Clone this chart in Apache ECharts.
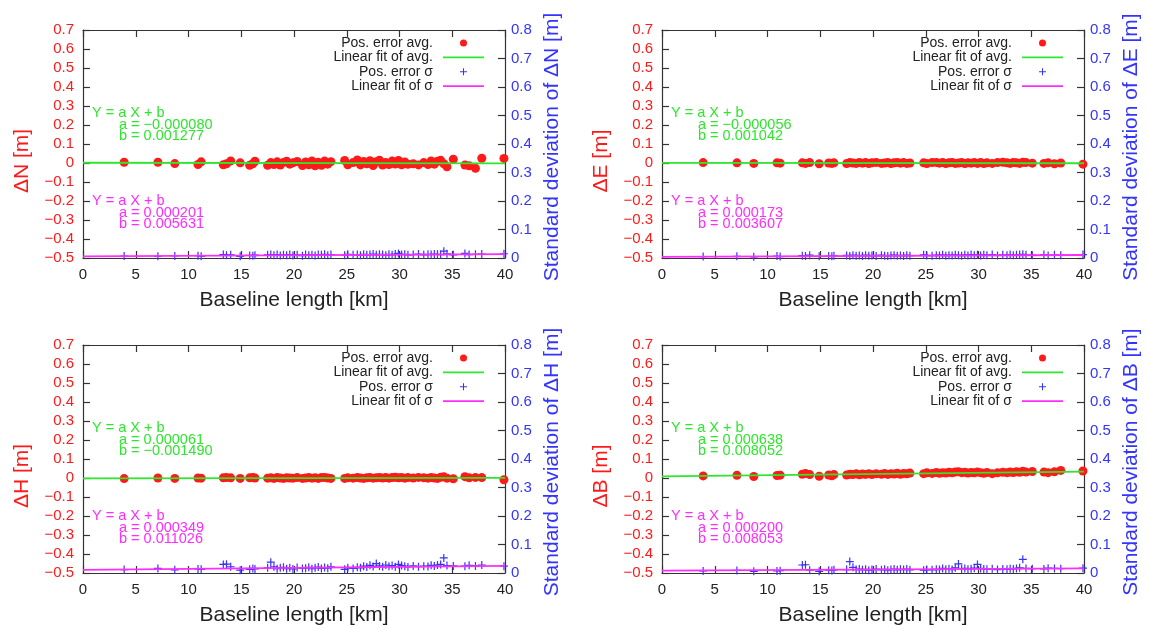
<!DOCTYPE html>
<html>
<head>
<meta charset="utf-8">
<script src="https://cdn.jsdelivr.net/npm/echarts@6/dist/echarts.min.js"></script>
<style>
html, body { margin: 0; padding: 0; background: #fff; }
#chart { width: 1149px; height: 629px; }
</style>
</head>
<body>
<div id="chart"></div>
<script>
// Baseline lengths of the station pairs [km]
const baselineKm = [3.9, 7.1, 8.7, 10.9, 11.2, 13.3, 13.6, 14.0, 14.9, 15.8, 16.1, 16.3, 17.5, 17.8, 18.1, 18.4, 18.7, 19.0, 19.3, 19.6, 19.9, 20.3, 20.8, 21.1, 21.4, 21.7, 22.0, 22.3, 22.6, 22.9, 23.2, 23.5, 24.8, 25.1, 25.6, 26.0, 26.3, 26.6, 26.9, 27.2, 27.5, 27.8, 28.1, 28.4, 28.7, 29.0, 29.3, 29.6, 29.9, 30.2, 30.5, 30.8, 31.3, 31.8, 32.3, 32.7, 33.0, 33.3, 33.6, 33.9, 34.2, 34.5, 35.1, 36.2, 36.6, 37.2, 37.8, 39.9];

// Average position error per baseline [m]
const avgN = [0.004, 0.004, -0.003, -0.008, 0.006, -0.009, -0.004, 0.011, 0.001, -0.012, -0.004, 0.009, -0.012, 0.002, -0.008, 0.006, -0.011, 0.003, 0.009, -0.006, 0.001, 0.008, -0.013, 0.005, -0.009, 0.011, -0.015, 0.004, -0.012, 0.010, -0.006, 0.007, 0.013, -0.009, 0.002, 0.016, -0.010, 0.008, -0.004, 0.012, -0.013, 0.006, 0.015, -0.011, 0.003, -0.008, 0.010, -0.005, 0.013, -0.009, 0.005, -0.007, -0.004, -0.010, 0.002, -0.008, 0.011, -0.006, 0.009, 0.014, -0.004, -0.020, 0.020, -0.011, -0.015, -0.028, 0.025, 0.024];
const avgE = [0.002, 0.001, -0.002, 0.001, -0.001, 0.001, -0.002, 0.002, -0.004, 0.000, -0.002, 0.001, -0.003, 0.002, 0.000, -0.002, 0.003, -0.001, 0.002, -0.003, 0.001, 0.003, -0.002, 0.000, 0.002, -0.003, 0.001, 0.003, -0.001, 0.002, -0.002, 0.000, 0.001, -0.003, 0.002, 0.003, -0.001, 0.002, -0.003, 0.001, 0.003, -0.002, 0.000, 0.002, -0.003, 0.001, -0.001, 0.002, -0.002, 0.003, -0.003, 0.001, -0.002, 0.002, 0.004, 0.001, -0.002, 0.003, 0.001, -0.002, 0.004, 0.002, -0.001, -0.002, 0.001, -0.004, 0.000, -0.006];
const avgH = [-0.003, 0.000, -0.002, 0.000, -0.001, 0.001, 0.002, 0.001, -0.002, 0.001, 0.002, 0.000, -0.001, 0.001, -0.002, 0.002, 0.000, -0.002, 0.001, 0.000, -0.001, 0.002, -0.002, 0.000, 0.002, -0.001, 0.001, -0.002, 0.002, 0.003, 0.000, -0.002, -0.002, 0.001, -0.001, 0.002, 0.000, -0.002, 0.001, 0.002, -0.001, 0.001, 0.003, 0.000, 0.002, -0.001, 0.002, 0.004, 0.001, 0.003, -0.001, 0.002, 0.000, 0.003, 0.001, -0.001, 0.002, 0.000, -0.002, 0.004, 0.006, -0.001, -0.004, 0.007, 0.001, 0.003, 0.002, -0.009];
const avgB = [0.011, 0.014, 0.008, 0.013, 0.015, 0.020, 0.024, 0.018, 0.009, 0.016, 0.012, 0.018, 0.016, 0.020, 0.018, 0.022, 0.017, 0.021, 0.019, 0.023, 0.018, 0.022, 0.020, 0.024, 0.019, 0.023, 0.021, 0.025, 0.020, 0.024, 0.022, 0.026, 0.023, 0.027, 0.024, 0.029, 0.025, 0.028, 0.026, 0.030, 0.027, 0.031, 0.033, 0.028, 0.030, 0.026, 0.029, 0.027, 0.031, 0.028, 0.025, 0.029, 0.023, 0.027, 0.030, 0.028, 0.031, 0.029, 0.033, 0.030, 0.035, 0.031, 0.034, 0.031, 0.028, 0.033, 0.040, 0.037];

// Standard deviation of the position error per baseline [m]
const sigN = [0.007, 0.006, 0.007, 0.008, 0.006, 0.012, 0.010, 0.011, 0.006, 0.009, 0.008, 0.010, 0.011, 0.012, 0.010, 0.012, 0.009, 0.011, 0.010, 0.012, 0.009, 0.011, 0.008, 0.012, 0.010, 0.011, 0.009, 0.012, 0.011, 0.013, 0.010, 0.012, 0.010, 0.013, 0.011, 0.012, 0.010, 0.013, 0.011, 0.012, 0.014, 0.011, 0.013, 0.012, 0.010, 0.013, 0.011, 0.014, 0.016, 0.012, 0.013, 0.011, 0.012, 0.014, 0.011, 0.013, 0.012, 0.014, 0.013, 0.012, 0.024, 0.015, 0.011, 0.016, 0.012, 0.013, 0.014, 0.015];
const sigE = [0.005, 0.006, 0.004, 0.007, 0.005, 0.008, 0.007, 0.010, 0.006, 0.007, 0.006, 0.008, 0.009, 0.007, 0.010, 0.008, 0.009, 0.007, 0.010, 0.008, 0.009, 0.007, 0.010, 0.008, 0.007, 0.009, 0.010, 0.008, 0.009, 0.007, 0.010, 0.008, 0.011, 0.009, 0.008, 0.010, 0.009, 0.011, 0.008, 0.010, 0.009, 0.011, 0.010, 0.008, 0.011, 0.009, 0.012, 0.010, 0.011, 0.009, 0.011, 0.010, 0.012, 0.009, 0.011, 0.010, 0.012, 0.010, 0.011, 0.012, 0.013, 0.011, 0.010, 0.012, 0.009, 0.011, 0.010, 0.012];
const sigH = [0.012, 0.016, 0.011, 0.014, 0.013, 0.030, 0.031, 0.022, 0.010, 0.013, 0.016, 0.014, 0.018, 0.038, 0.022, 0.015, 0.018, 0.020, 0.015, 0.018, 0.014, 0.019, 0.016, 0.017, 0.020, 0.015, 0.018, 0.021, 0.016, 0.019, 0.017, 0.022, 0.013, 0.018, 0.016, 0.020, 0.018, 0.024, 0.021, 0.027, 0.023, 0.033, 0.025, 0.022, 0.028, 0.024, 0.026, 0.022, 0.030, 0.026, 0.024, 0.021, 0.025, 0.022, 0.024, 0.023, 0.027, 0.025, 0.028, 0.030, 0.053, 0.026, 0.025, 0.024, 0.027, 0.025, 0.028, 0.024];
const sigB = [0.007, 0.009, 0.006, 0.007, 0.008, 0.028, 0.029, 0.010, 0.006, 0.010, 0.009, 0.011, 0.012, 0.040, 0.020, 0.012, 0.014, 0.011, 0.013, 0.010, 0.012, 0.014, 0.011, 0.013, 0.010, 0.012, 0.014, 0.011, 0.013, 0.012, 0.014, 0.011, 0.010, 0.012, 0.011, 0.013, 0.012, 0.016, 0.013, 0.015, 0.012, 0.018, 0.032, 0.014, 0.016, 0.013, 0.015, 0.017, 0.030, 0.016, 0.014, 0.013, 0.015, 0.012, 0.014, 0.013, 0.015, 0.014, 0.016, 0.018, 0.048, 0.016, 0.015, 0.014, 0.017, 0.016, 0.015, 0.017];

// Components shown in the four panels and their linear fits Y = a X + b
const components = ['\u0394N', '\u0394E', '\u0394H', '\u0394B'];
const fitAvgA = [-0.000080, -0.000056, 0.000061, 0.000638];
const fitAvgB = [0.001277, 0.001042, -0.001490, 0.008052];
const fitSigA = [0.000201, 0.000173, 0.000349, 0.000200];
const fitSigB = [0.005631, 0.003607, 0.011026, 0.008053];

const avgSets = [avgN, avgE, avgH, avgB];
const sigSets = [sigN, sigE, sigH, sigB];

// Axis ranges
const xMin = 0, xMax = 40, xStep = 5;
const yMin = -0.5, yMax = 0.7, yStep = 0.1;
const y2Min = 0, y2Max = 0.8, y2Step = 0.1;

const legendNames = ['Pos. error avg.', 'Linear fit of avg.', 'Pos. error \u03c3', 'Linear fit of \u03c3'];

const FONT = '"Liberation Sans", Arial, Helvetica, sans-serif';
const RED = '#ff1a1a', BLUE = '#3434ff', GREEN = '#2ee62e', MAGENTA = '#ff2cff', INK = '#222';
const PLUS = 'path://M3.4,0h1.2v8h-1.2zM0,3.4h8v1.2h-8z';
const LINE_ICON = 'path://M0,0H40V1.8H0Z';

const panels = [
  { left: 83, top: 30 },
  { left: 662, top: 30 },
  { left: 83, top: 345 },
  { left: 662, top: 345 }
];
const W = 422, H = 228;

function signed(v, digits) {
  if (Math.abs(v) < 1e-12) return '0';
  return (v < 0 ? '\u2212' : '') + Math.abs(v).toFixed(digits);
}
function pairs(xs, ys) { return xs.map((x, i) => [x, ys[i]]); }

const grid = [], xAxis = [], yAxis = [], series = [], legend = [], graphic = [];

panels.forEach((p, k) => {
  grid.push({ left: p.left, top: p.top, width: W, height: H, show: false });

  const frameLine = { show: true, onZero: false, lineStyle: { color: '#333', width: 1.2 } };
  const tickIn = { show: true, inside: true, length: 7, lineStyle: { color: '#333', width: 1.2 } };

  xAxis.push({
    gridIndex: k, type: 'value', position: 'bottom', min: xMin, max: xMax, interval: xStep,
    axisLine: frameLine, axisTick: tickIn, splitLine: { show: false },
    axisLabel: { color: INK, fontSize: 15, fontFamily: FONT, margin: 9 }
  });
  xAxis.push({
    gridIndex: k, type: 'value', position: 'top', min: xMin, max: xMax, interval: xStep,
    axisLine: frameLine, axisTick: tickIn, splitLine: { show: false }, axisLabel: { show: false }
  });
  yAxis.push({
    gridIndex: k, type: 'value', position: 'left', min: yMin, max: yMax, interval: yStep,
    axisLine: frameLine, axisTick: tickIn, splitLine: { show: false },
    axisLabel: { color: RED, fontSize: 15, fontFamily: FONT, margin: 9, formatter: v => signed(v, 1) }
  });
  yAxis.push({
    gridIndex: k, type: 'value', position: 'right', min: y2Min, max: y2Max, interval: y2Step,
    alignTicks: false,
    axisLine: frameLine, axisTick: tickIn, splitLine: { show: false },
    axisLabel: { color: BLUE, fontSize: 15, fontFamily: FONT, margin: 6, formatter: v => signed(v, 1) }
  });

  const xi = 2 * k, yl = 2 * k, yr = 2 * k + 1;
  series.push({
    name: legendNames[0], type: 'scatter', xAxisIndex: xi, yAxisIndex: yl,
    data: pairs(baselineKm, avgSets[k]), symbol: 'circle', symbolSize: 9,
    itemStyle: { color: RED, opacity: 1 }
  });
  series.push({
    name: legendNames[1], type: 'line', xAxisIndex: xi, yAxisIndex: yl,
    data: [[xMin, fitAvgA[k] * xMin + fitAvgB[k]], [xMax, fitAvgA[k] * xMax + fitAvgB[k]]],
    symbol: 'none', lineStyle: { color: GREEN, width: 1.8 }, itemStyle: { color: GREEN }
  });
  series.push({
    name: legendNames[2], type: 'scatter', xAxisIndex: xi, yAxisIndex: yr,
    data: pairs(baselineKm, sigSets[k]), symbol: PLUS, symbolSize: 8,
    itemStyle: { color: BLUE, opacity: 1 }
  });
  series.push({
    name: legendNames[3], type: 'line', xAxisIndex: xi, yAxisIndex: yr,
    data: [[xMin, fitSigA[k] * xMin + fitSigB[k]], [xMax, fitSigA[k] * xMax + fitSigB[k]]],
    symbol: 'none', lineStyle: { color: MAGENTA, width: 1.8 }, itemStyle: { color: MAGENTA }
  });

  legend.push({
    data: [
      { name: legendNames[0] },
      { name: legendNames[1], icon: LINE_ICON },
      { name: legendNames[2] },
      { name: legendNames[3], icon: LINE_ICON }
    ],
    orient: 'vertical', align: 'right', selectedMode: false,
    right: 1149 - (p.left + 401), top: p.top + 6, padding: 0,
    itemWidth: 41, itemHeight: 7, itemGap: 0.4,
    textStyle: { color: INK, fontSize: 14, fontFamily: FONT, lineHeight: 14, padding: [0, 5, 0, 0] }
  });

  const textBase = { fontFamily: FONT };
  // Axis titles
  graphic.push({
    type: 'text', x: p.left - 61, y: p.top + 131, rotation: Math.PI / 2,
    style: Object.assign({ text: components[k] + ' [m]', fill: RED, fontSize: 21, align: 'center', verticalAlign: 'middle' }, textBase)
  });
  graphic.push({
    type: 'text', x: p.left + 469, y: p.top + 117, rotation: Math.PI / 2,
    style: Object.assign({ text: 'Standard deviation of ' + components[k] + ' [m]', fill: BLUE, fontSize: 21, align: 'center', verticalAlign: 'middle' }, textBase)
  });
  graphic.push({
    type: 'text', x: p.left + 211, y: p.top + 270,
    style: Object.assign({ text: 'Baseline length [km]', fill: INK, fontSize: 21, align: 'center', verticalAlign: 'middle' }, textBase)
  });

  // Fit parameter annotations
  const ann = [
    [GREEN, 83, fitAvgA[k], fitAvgB[k]],
    [MAGENTA, 171, fitSigA[k], fitSigB[k]]
  ];
  ann.forEach(([col, dy, a, b]) => {
    graphic.push({ type: 'text', x: p.left + 9, y: p.top + dy,
      style: Object.assign({ text: 'Y = a X + b', fill: col, fontSize: 14.5, align: 'left', verticalAlign: 'middle' }, textBase) });
    graphic.push({ type: 'text', x: p.left + 36, y: p.top + dy + 11.5,
      style: Object.assign({ text: 'a = ' + signed(a, 6), fill: col, fontSize: 14.5, align: 'left', verticalAlign: 'middle' }, textBase) });
    graphic.push({ type: 'text', x: p.left + 36, y: p.top + dy + 23,
      style: Object.assign({ text: 'b = ' + signed(b, 6), fill: col, fontSize: 14.5, align: 'left', verticalAlign: 'middle' }, textBase) });
  });
});

const chart = echarts.init(document.getElementById('chart'), null, { renderer: 'canvas' });
chart.setOption({
  backgroundColor: '#fff',
  animation: false,
  grid, xAxis, yAxis, series, legend, graphic
});
</script>
